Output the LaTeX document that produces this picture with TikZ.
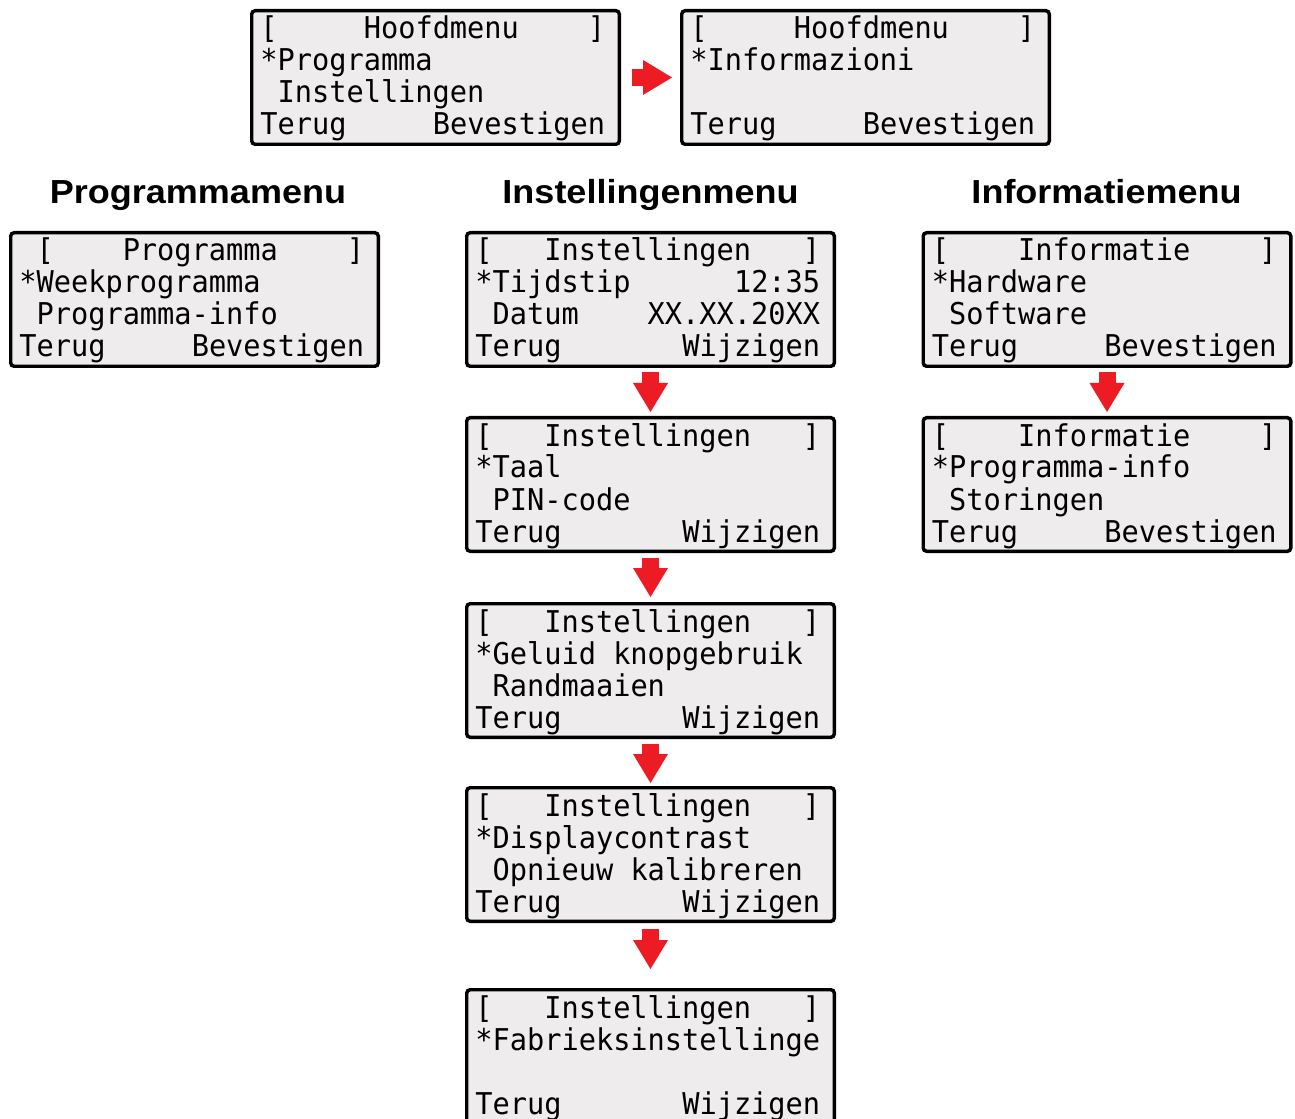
\documentclass[tikz,border=0pt]{standalone}
\usepackage{fontspec}
\usepackage{xcolor}
\usetikzlibrary{arrows.meta}
\newfontfamily\lcdfont[FakeStretch=0.955]{DejaVu Sans Mono}
\newfontfamily\headfont[FakeStretch=1.08]{Liberation Sans}
\definecolor{lcdgray}{RGB}{238,236,236}
\definecolor{arrowred}{RGB}{237,28,36}

\begin{document}
\begin{tikzpicture}[x=0.75pt, y=-0.75pt,
    screen/.style={draw=black, line width=2.6pt, fill=lcdgray, rounded corners=2.5pt,
      minimum width=275.65pt, minimum height=100.15pt, inner sep=0pt},
    lcd/.style={anchor=base west, inner sep=0pt, font=\lcdfont\fontsize{22.5}{24}\selectfont},
    heading/.style={anchor=base, inner sep=0pt, font=\headfont\bfseries\fontsize{25}{30}\selectfont},
    blockarrow/.style={draw=arrowred, line width=12.75pt,
      -{Triangle[width=26.25pt, length=21.75pt, line width=0pt]}}]
  \useasboundingbox (0,0) rectangle (1295,1119);

  % main menu
  \node[screen] (hoofd1) at (435.5,77.5) {};
  \node[screen] (hoofd2) at (865.5,77.5) {};
  \foreach \i/\ln in {1/{[~~~~~Hoofdmenu~~~~]}, 2/*Programma, 3/~Instellingen, 4/Terug~~~~~Bevestigen}
    \node[lcd] (hoofd1-\i) at ([shift={(10,32*\i-2)}]hoofd1.north west) {\ln};
  \foreach \i/\ln in {1/{[~~~~~Hoofdmenu~~~~]}, 2/*Informazioni, 4/Terug~~~~~Bevestigen}
    \node[lcd] (hoofd2-\i) at ([shift={(10,32*\i-2)}]hoofd2.north west) {\ln};
  \draw[blockarrow, shorten <=8.25pt, shorten >=6pt] (hoofd1) -- (hoofd2);

  % titles
  \node[heading] (progtitle) at (198,204) {Programmamenu};
  \node[heading] (insttitle) at (650.5,204) {Instellingenmenu};
  \node[heading] (infotitle) at (1106.5,204) {Informatiemenu};

  % program menu
  \node[screen] (prog) at (194.5,299.5) {};
  \foreach \i/\ln in {1/{~[~~~~Programma~~~~]}, 2/*Weekprogramma, 3/~Programma-info, 4/Terug~~~~~Bevestigen}
    \node[lcd] (prog-\i) at ([shift={(10,32*\i-2)}]prog.north west) {\ln};

  % settings menu
  \node[screen] (inst1) at (650.5,299.5) {};
  \node[screen] (inst2) at (650.5,484.5) {};
  \node[screen] (inst3) at (650.5,670.5) {};
  \node[screen] (inst4) at (650.5,854.5) {};
  \node[screen] (inst5) at (650.5,1056.5) {};
  \foreach \i/\ln in {1/{[~~~Instellingen~~~]}, 2/*Tijdstip~~~~~~12:35, 3/~Datum~~~~XX.XX.20XX, 4/Terug~~~~~~~Wijzigen}
    \node[lcd] (inst1-\i) at ([shift={(10,32*\i-2)}]inst1.north west) {\ln};
  \foreach \i/\ln in {1/{[~~~Instellingen~~~]}, 2/*Taal, 3/~PIN-code, 4/Terug~~~~~~~Wijzigen}
    \node[lcd] (inst2-\i) at ([shift={(10,32*\i-2)}]inst2.north west) {\ln};
  \foreach \i/\ln in {1/{[~~~Instellingen~~~]}, 2/*Geluid~knopgebruik, 3/~Randmaaien, 4/Terug~~~~~~~Wijzigen}
    \node[lcd] (inst3-\i) at ([shift={(10,32*\i-2)}]inst3.north west) {\ln};
  \foreach \i/\ln in {1/{[~~~Instellingen~~~]}, 2/*Displaycontrast, 3/~Opnieuw~kalibreren, 4/Terug~~~~~~~Wijzigen}
    \node[lcd] (inst4-\i) at ([shift={(10,32*\i-2)}]inst4.north west) {\ln};
  \foreach \i/\ln in {1/{[~~~Instellingen~~~]}, 2/*Fabrieksinstellinge, 4/Terug~~~~~~~Wijzigen}
    \node[lcd] (inst5-\i) at ([shift={(10,32*\i-2)}]inst5.north west) {\ln};
  \draw[blockarrow, shorten <=3pt, shorten >=3pt] (inst1) -- (inst2);
  \draw[blockarrow, shorten <=3.75pt, shorten >=3.75pt] (inst2) -- (inst3);
  \draw[blockarrow, shorten <=3.75pt, shorten >=2.25pt] (inst3) -- (inst4);
  \draw[blockarrow, shorten <=4.5pt, shorten >=14.25pt] (inst4) -- (inst5);

  % information menu
  \node[screen] (info1) at (1107,299.5) {};
  \node[screen] (info2) at (1107,484.5) {};
  \foreach \i/\ln in {1/{[~~~~Informatie~~~~]}, 2/*Hardware, 3/~Software, 4/Terug~~~~~Bevestigen}
    \node[lcd] (info1-\i) at ([shift={(10,32*\i-2)}]info1.north west) {\ln};
  \foreach \i/\ln in {1/{[~~~~Informatie~~~~]}, 2/*Programma-info, 3/~Storingen, 4/Terug~~~~~Bevestigen}
    \node[lcd] (info2-\i) at ([shift={(10,32*\i-2)}]info2.north west) {\ln};
  \draw[blockarrow, shorten <=3pt, shorten >=3pt] (info1) -- (info2);
\end{tikzpicture}
\end{document}
